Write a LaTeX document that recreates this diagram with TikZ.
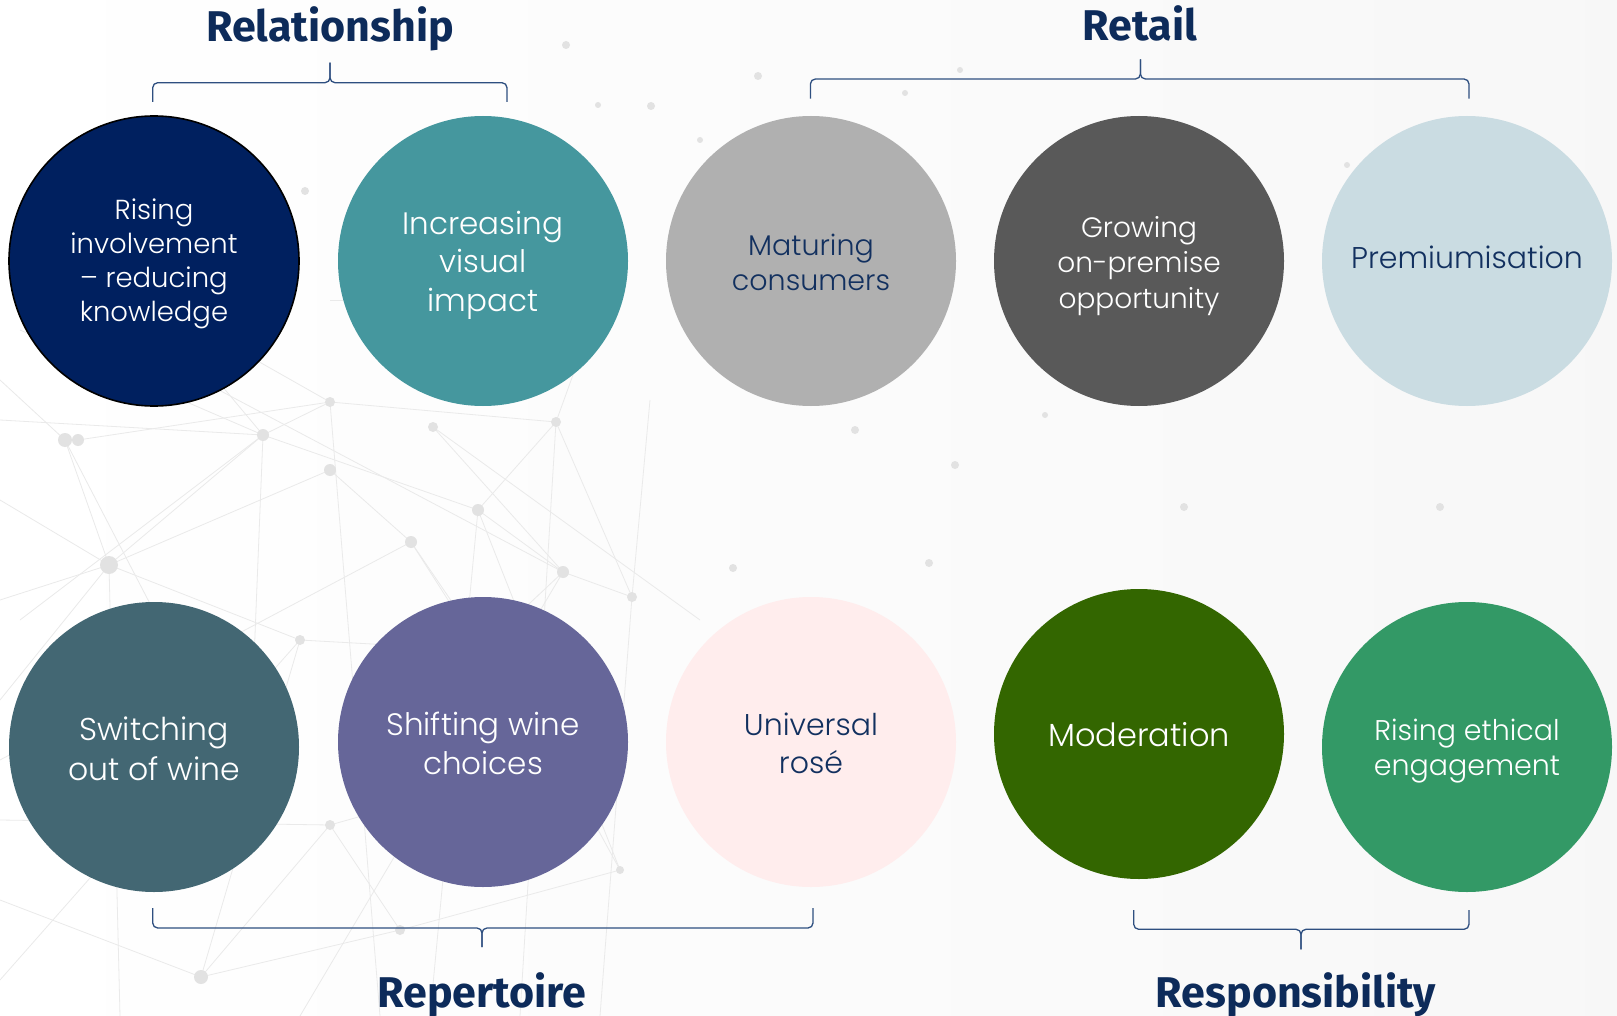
\documentclass[tikz,border=0pt]{standalone}
\usepackage{fontspec}
\setmainfont{Poppins}[UprightFont=* Light]
\newfontfamily\headfont{Fira Sans}
\definecolor{navyfill}{HTML}{00205F}
\definecolor{tealfill}{HTML}{45979E}
\definecolor{greyA}{HTML}{B0B0B0}
\definecolor{greyB}{HTML}{595959}
\definecolor{paleblue}{HTML}{CADCE2}
\definecolor{slate}{HTML}{436773}
\definecolor{violet}{HTML}{666699}
\definecolor{blush}{HTML}{FFEDED}
\definecolor{darkgreen}{HTML}{336600}
\definecolor{seagreen}{HTML}{339966}
\definecolor{inknavy}{HTML}{12305F}
\definecolor{headnavy}{HTML}{0D2B5A}
\definecolor{bracecol}{HTML}{2E4F80}
\definecolor{netline}{HTML}{EAEAEA}
\definecolor{netdot}{HTML}{E2E2E2}
\tikzset{
  bubble/.style={circle, minimum size=290pt, inner sep=0pt},
  caption/.style={align=center, inner sep=0pt},
  lighttext/.style={caption, text=white},
  darktext/.style={caption, text=inknavy},
  heading/.style={anchor=base, text=headnavy, font=\headfont\bfseries\fontsize{43}{48}\selectfont},
  bracket/.style={draw=bracecol, line width=1.3pt, rounded corners=5pt},
  netedge/.style={draw=netline, line width=0.8pt},
  netnode/.style={fill=netdot}
}
\newcommand\fs[2]{\fontsize{#1}{#2}\selectfont}
\begin{document}
\begin{tikzpicture}[x=1pt,y=-1pt]
\useasboundingbox (0,0) rectangle (1617,1016);
\shade[left color=white, right color=white!94!gray] (0,0) rectangle (1617,1016);

% faint network in the background
\foreach \xa/\ya/\xb/\yb in {
  109/565/65/440, 109/565/0/600, 109/565/263/435, 109/565/330/470, 109/565/0/700,
  65/440/0/380, 65/440/78/440, 78/440/330/402, 263/435/478/510, 263/435/330/402,
  330/402/556/422, 556/422/478/510, 478/510/563/572, 556/422/632/597,
  563/572/632/597, 433/427/563/572, 330/470/411/542, 411/542/560/760,
  109/565/300/640, 300/640/480/650, 480/650/563/572, 300/640/201/977,
  201/977/400/930, 400/930/620/870, 620/870/560/760, 560/760/330/825,
  330/825/201/977, 330/825/400/930, 0/820/330/825, 0/900/201/977,
  478/510/620/870, 263/435/150/300, 150/300/330/402, 556/422/600/300,
  600/300/330/300, 20/330/263/435, 0/500/109/565, 411/542/480/650,
  0/420/263/435, 65/440/200/700, 263/435/250/760, 330/402/380/1016,
  478/510/430/1016, 556/422/520/1016, 632/597/600/1016, 0/980/300/640,
  109/565/120/1016, 0/760/411/542, 632/597/650/400, 433/427/700/620,
  563/572/300/1016, 20/620/263/435, 200/380/563/572}
  \draw[netedge] (\xa,\ya) -- (\xb,\yb);
\foreach \px/\py/\pr in {
  109/565/9, 65/440/7, 78/440/6, 263/435/6, 330/402/5, 330/470/6, 478/510/6,
  556/422/5, 563/572/6, 411/542/6, 433/427/5, 632/597/5, 300/640/5, 480/650/5,
  560/760/5, 620/870/4, 330/825/5, 400/930/5, 201/977/7, 150/300/4, 600/300/4,
  566/45/4, 651/106/4, 758/76/4, 598/105/3, 305/191/4, 905/93/3, 960/70/3,
  855/430/4, 955/465/4, 1184/507/4, 1440/507/4, 733/568/4, 929/563/4,
  785/125/3, 700/140/3, 1045/415/3, 1347/165/3}
  \fill[netnode] (\px,\py) circle (\pr);

% upper row
\node[bubble, fill=navyfill, draw=black, line width=1.6pt] (c1) at (154,261) {};
\node[bubble, fill=tealfill] (c2) at (483,261) {};
\node[bubble, fill=greyA] (c3) at (811,261) {};
\node[bubble, fill=greyB] (c4) at (1139,261) {};
\node[bubble, fill=paleblue] (c5) at (1467,261) {};
\node[lighttext, font=\fs{27.5}{34}] (t1) at ([yshift=-3pt]c1) {Rising\\involvement\\– reducing\\knowledge};
\node[lighttext, font=\fs{31}{38.5}] (t2) at ([yshift=-4pt]c2) {Increasing\\visual\\impact};
\node[darktext, font=\fs{28.5}{35}] (t3) at ([yshift=-1pt]c3) {Maturing\\consumers};
\node[lighttext, font=\fs{28}{35.5}] (t4) at ([yshift=-5pt]c4) {Growing\\on-premise\\opportunity};
\node[darktext, font=\fs{30}{37}] (t5) at ([yshift=4pt]c5) {Premiumisation};

% lower row
\node[bubble, fill=slate] (c6) at (154,747) {};
\node[bubble, fill=violet] (c7) at (483,742) {};
\node[bubble, fill=blush] (c8) at (811,742) {};
\node[bubble, fill=darkgreen] (c9) at (1139,734) {};
\node[bubble, fill=seagreen] (c10) at (1467,747) {};
\node[lighttext, font=\fs{31.5}{39.5}] (t6) at ([yshift=-2pt]c6) {Switching\\out of wine};
\node[lighttext, font=\fs{31}{39}] (t7) at ([yshift=-1pt]c7) {Shifting wine\\choices};
\node[darktext, font=\fs{30}{38}] (t8) at ([yshift=-1pt]c8) {Universal\\rosé};
\node[lighttext, font=\fs{32}{38}] (t9) at ([yshift=-1pt]c9) {Moderation};
\node[lighttext, font=\fs{28.5}{35}] (t10) at ([yshift=-4pt]c10) {Rising ethical\\engagement};

% group headings
\node[heading] (hRel) at (330,41.5) {Relationship};
\node[heading] (hRet) at (1140,40.5) {Retail};
\node[heading] (hRep) at (482,1007) {Repertoire};
\node[heading] (hRes) at (1296,1007) {Responsibility};

% group brackets
\draw[bracket] (152.7,102) -- (152.7,82.7) -- (330,82.7) -- (330,62.7);
\draw[bracket] (507,102) -- (507,82.7) -- (330,82.7) -- (330,62.7);
\draw[bracket] (810.4,98.7) -- (810.4,79) -- (1140.4,79) -- (1140.4,59.3);
\draw[bracket] (1469,98.7) -- (1469,79) -- (1140.4,79) -- (1140.4,59.3);
\draw[bracket] (152.7,908) -- (152.7,928) -- (482,928) -- (482,947);
\draw[bracket] (813,908) -- (813,928) -- (482,928) -- (482,947);
\draw[bracket] (1133.7,910) -- (1133.7,929.3) -- (1301,929.3) -- (1301,949.3);
\draw[bracket] (1469,910) -- (1469,929.3) -- (1301,929.3) -- (1301,949.3);
\end{tikzpicture}
\end{document}
